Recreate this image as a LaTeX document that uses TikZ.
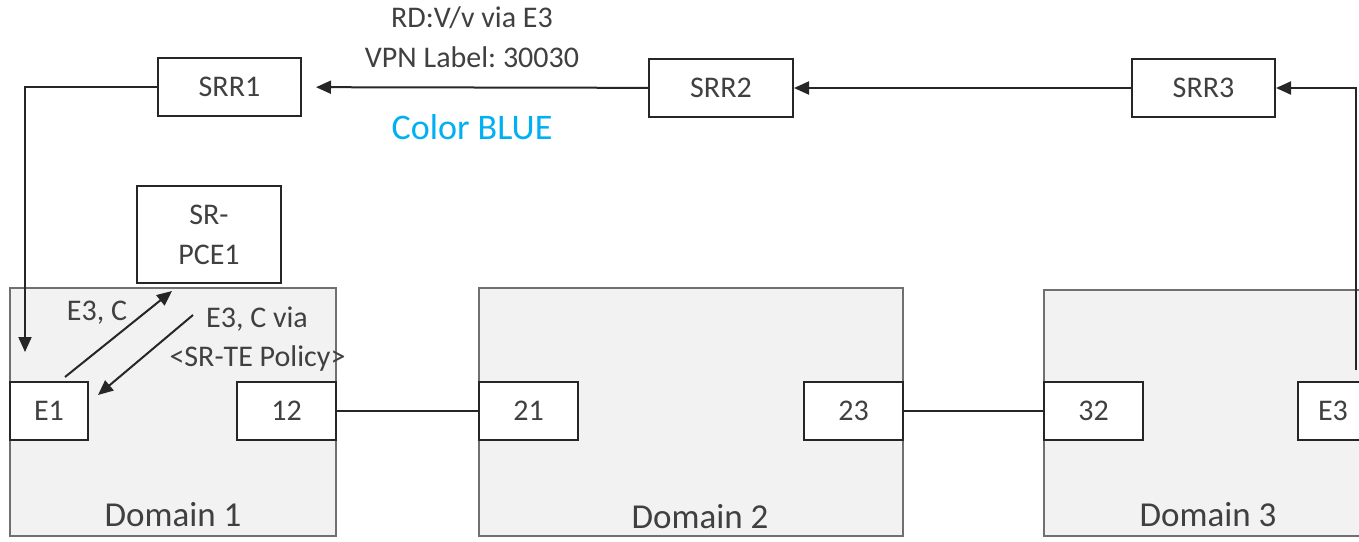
\documentclass[tikz,border=0pt]{standalone}
\usepackage{fontspec}
\setmainfont{Carlito}
\usetikzlibrary{arrows.meta}
\frenchspacing

\definecolor{ink}{HTML}{262626}
\definecolor{txt}{HTML}{404040}
\definecolor{domfill}{HTML}{F2F2F2}
\definecolor{domline}{HTML}{707070}
\definecolor{skyblue}{HTML}{00B0F0}

\begin{document}
\begin{tikzpicture}[x=1pt,y=-1pt,
  box/.style={draw=ink,line width=2pt,fill=white,minimum width=#1,
    minimum height=58pt,inner sep=0pt,text=txt,
    font=\fontsize{30}{40}\selectfont},
  domain/.style 2 args={draw=domline,line width=2.6pt,fill=domfill,
    minimum width=#1,minimum height=#2,inner sep=0pt},
  domlabel/.style={text=txt,inner sep=0pt,font=\fontsize{35}{40}\selectfont},
  lbl/.style={text=txt,inner sep=0pt,font=\fontsize{30}{40}\selectfont},
  wire/.style={draw=ink,line width=2pt},
  arrow/.style={wire,-{Triangle[length=15pt,width=13pt]}}]

\useasboundingbox (0,0) rectangle (1359,541);
\clip (0,0) rectangle (1359,541);

% domains
\node[domain={326pt}{248pt}] (d1) at (173,412) {};
\node[domain={424pt}{248pt}] (d2) at (691,412) {};
\node[domain={340pt}{246pt}] (d3) at (1214,413) {};
\node[domlabel] (d1l) at (173,515) {Domain 1};
\node[domlabel] (d2l) at (700,517) {Domain 2};
\node[domlabel] (d3l) at (1208,515) {Domain 3};

% border routers
\node[box=78pt] (e1) at (49,411) {E1};
\node[box=99pt] (p12) at (286.5,411) {12};
\node[box=99pt] (p21) at (528.5,411) {21};
\node[box=99pt] (p23) at (853.5,411) {23};
\node[box=99pt] (p32) at (1093.5,411) {32};
\node[box=70pt] (e3) at (1333,411) {E3};

% route reflectors and PCE
\node[box=143pt] (srr1) at (229.5,87) {SRR1};
\node[box=144pt] (srr2) at (721,88) {SRR2};
\node[box=143pt] (srr3) at (1203.5,88) {SRR3};
\node[box=144pt,minimum height=97pt,align=center] (pce) at (209,234.5) {SR-\\PCE1};

% inter-domain links
\draw[wire] (p12) -- (p21);
\draw[wire] (p23) -- (p32);

% route propagation
\coordinate (e3up) at (1356,370);
\coordinate (e1in) at (25,352);
\draw[arrow] (e3up) |- (srr3.east);
\draw[arrow] (srr3) -- (srr2);
\draw[arrow,shorten >=14pt] (srr2) -- (srr1);
\draw[arrow] (srr1.west) -| (e1in);

% PCE request / reply
\coordinate (req0) at (65,377);
\coordinate (req1) at (172,291);
\coordinate (rep0) at (193,315);
\coordinate (rep1) at (98,395);
\draw[arrow] (req0) -- (req1);
\draw[arrow] (rep0) -- (rep1);

% labels
\node[lbl] (t1) at (472,18) {RD:V/v via E3};
\node[lbl] (t2) at (472,57) {VPN Label: 30030};
\node[lbl,text=skyblue,font=\fontsize{36}{40}\selectfont] (t3) at (472,127) {Color BLUE};
\node[lbl] (t4) at (97,313) {E3, C};
\node[lbl] (t5) at (257,319) {E3, C via};
\node[lbl] (t6) at (257.5,358) {<SR-TE Policy>};
\end{tikzpicture}
\end{document}
